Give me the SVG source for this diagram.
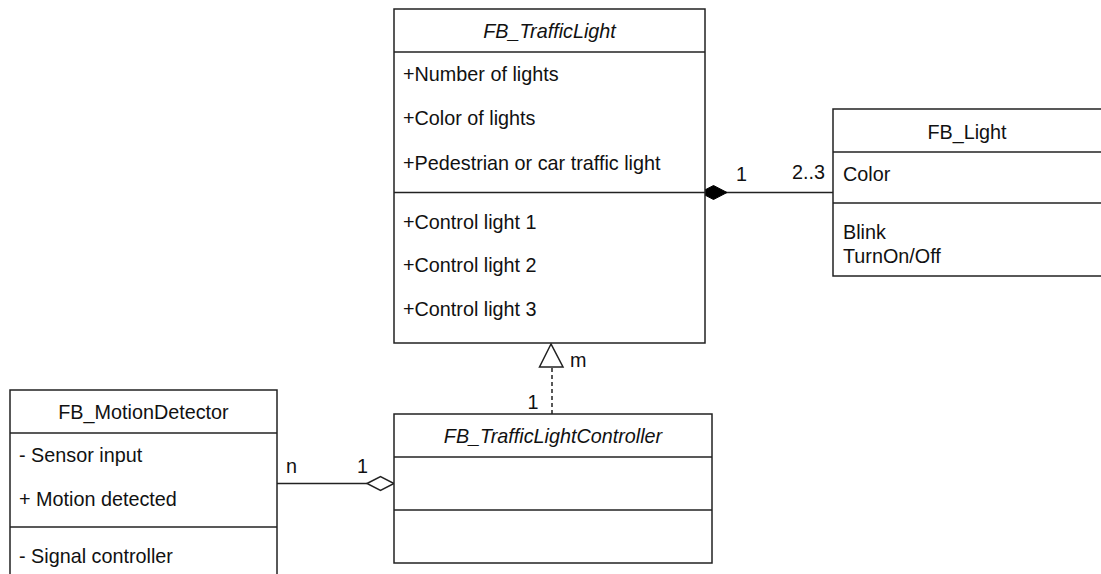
<svg xmlns="http://www.w3.org/2000/svg" width="1101" height="574" viewBox="0 0 1101 574">
<style>
.box{fill:#fff;stroke:#222;stroke-width:1.5}
.sep{stroke:#222;stroke-width:1.5}
text{font-family:"Liberation Sans",Arial,sans-serif;font-size:19.8px;fill:#111}
.t{text-anchor:middle}
.i{font-style:italic}
.edge{fill:none;stroke:#222;stroke-width:1.5}
</style>
<rect width="1101" height="574" fill="#fff"/>
<g id="connectors">
  <line class="edge" x1="705" y1="192.5" x2="833" y2="192.5"/>
  <polygon points="700,192.5 713.5,185.5 727,192.5 713.5,199.5" fill="#000" stroke="#000" stroke-width="1"/>
  <text x="736" y="181">1</text>
  <text x="792" y="179">2..3</text>
  <line class="edge" x1="552" y1="368" x2="552" y2="414" stroke-dasharray="4,3"/>
  <polygon points="551,344 539.5,367 563,367" fill="#fff" stroke="#222" stroke-width="1.5"/>
  <text x="570" y="367">m</text>
  <rect x="524" y="393" width="18" height="19" fill="#fff"/>
  <text x="533" y="409" class="t">1</text>
  <line class="edge" x1="277" y1="483.5" x2="367" y2="483.5"/>
  <polygon points="367,483.5 380.5,476.5 394,483.5 380.5,490.5" fill="#fff" stroke="#222" stroke-width="1.5"/>
  <text x="286" y="473">n</text>
  <text x="357" y="473">1</text>
</g>
<g id="FB_TrafficLight">
  <rect class="box" x="394" y="9" width="311" height="334"/>
  <line class="sep" x1="394" y1="52" x2="705" y2="52"/>
  <line class="sep" x1="394" y1="192.5" x2="705" y2="192.5"/>
  <text x="549.5" y="38" class="t i">FB_TrafficLight</text>
  <text x="403" y="81">+Number of lights</text>
  <text x="403" y="125">+Color of lights</text>
  <text x="403" y="170">+Pedestrian or car traffic light</text>
  <text x="403" y="229">+Control light 1</text>
  <text x="403" y="272">+Control light 2</text>
  <text x="403" y="316">+Control light 3</text>
</g>
<g id="FB_Light">
  <rect class="box" x="833" y="109" width="275" height="167"/>
  <line class="sep" x1="833" y1="152" x2="1101" y2="152"/>
  <line class="sep" x1="833" y1="203" x2="1101" y2="203"/>
  <text x="967" y="139" class="t">FB_Light</text>
  <text x="843" y="181">Color</text>
  <text x="843" y="239">Blink</text>
  <text x="843" y="263">TurnOn/Off</text>
</g>
<g id="FB_TrafficLightController">
  <rect class="box" x="394" y="414" width="318" height="149"/>
  <line class="sep" x1="394" y1="457" x2="712" y2="457"/>
  <line class="sep" x1="394" y1="510" x2="712" y2="510"/>
  <text x="553" y="443" class="t i">FB_TrafficLightController</text>
</g>
<g id="FB_MotionDetector">
  <rect class="box" x="10" y="390" width="267" height="200"/>
  <line class="sep" x1="10" y1="433" x2="277" y2="433"/>
  <line class="sep" x1="10" y1="527" x2="277" y2="527"/>
  <text x="143.5" y="419" class="t">FB_MotionDetector</text>
  <text x="19" y="462">- Sensor input</text>
  <text x="19" y="506">+ Motion detected</text>
  <text x="19" y="563">- Signal controller</text>
</g>
</svg>
